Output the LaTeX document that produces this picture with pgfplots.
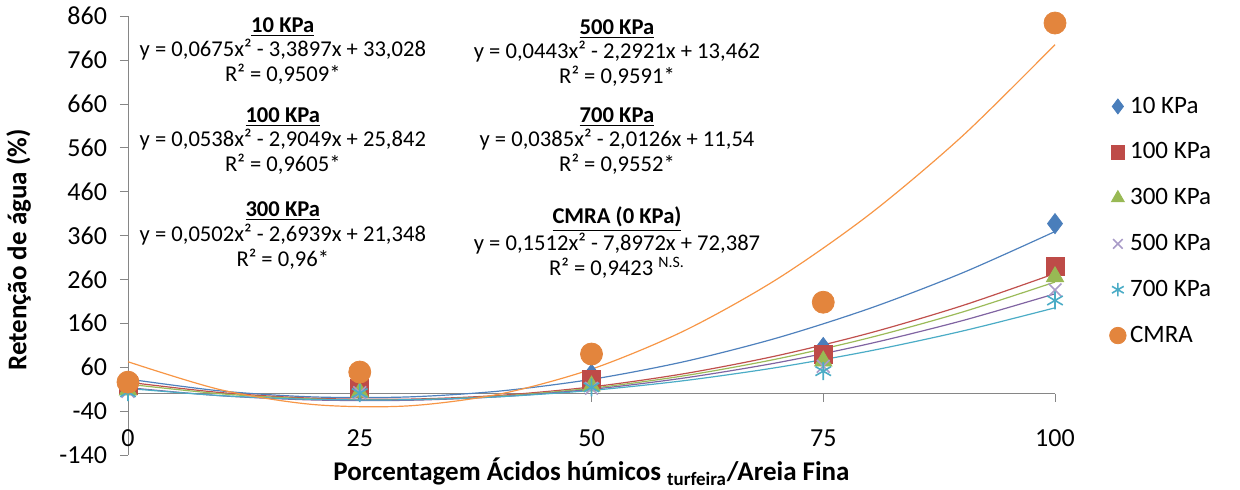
\documentclass[border=0pt]{standalone}
\usepackage{pgfplots}
\pgfplotsset{compat=1.18}
\usepackage{fontspec}
\setmainfont{Carlito}
\definecolor{mblue}{HTML}{4A7EBB}
\definecolor{mred}{HTML}{BE4B48}
\definecolor{mgreen}{HTML}{98B954}
\definecolor{mpurple}{HTML}{A99BC8}
\definecolor{mcyan}{HTML}{4BACC6}
\definecolor{morange}{HTML}{E3853D}
\definecolor{lblue}{HTML}{4F81BD}
\definecolor{lred}{HTML}{C0504D}
\definecolor{lgreen}{HTML}{9BBB59}
\definecolor{lpurple}{HTML}{8064A2}
\definecolor{lcyan}{HTML}{4BACC6}
\definecolor{lorange}{HTML}{F79646}
\definecolor{axgray}{HTML}{868686}
\begin{document}
\begin{tikzpicture}
\useasboundingbox (-64pt,-17.5pt) rectangle (556pt,227.5pt);
\begin{axis}[
  scale only axis,
  width=463.5pt, height=219.5pt,
  xmin=0, xmax=100, ymin=-140, ymax=860,
  axis x line=bottom, axis y line=left,
  x axis line style={draw=none},
  y axis line style={axgray,-},
  xtick={0,25,50,75,100},
  ytick={-140,-40,60,160,260,360,460,560,660,760,860},
  tick align=outside,
  major tick length=4pt,
  ytick style={axgray},
  xtick style={draw=none},
  /pgf/number format/assume math mode=true,
  ticklabel style={font=\fontsize{13}{15}\selectfont, text=black},
  xticklabel style={yshift=20pt},
  yticklabel style={xshift=-3pt},
  xlabel={\textbf{Porcentagem Ácidos húmicos \textsubscript{turfeira}/Areia Fina}},
  xlabel style={at={(rel axis cs:0.5,0)}, anchor=north, yshift=2pt, font=\fontsize{13.5}{15}\selectfont},
  ylabel={\textbf{Retenção de água (\%)}},
  ylabel style={at={(rel axis cs:0,0.467)}, anchor=south, yshift=45pt, font=\fontsize{13.5}{15}\selectfont},
  legend style={at={(rel axis cs:1.052,0.835)}, anchor=north west, draw=none, fill=none,
    font=\fontsize{12.5}{14}\selectfont, row sep=9.3pt},
  legend image post style={scale=0.75},
  legend cell align=left,
  clip=false,
]
% data points
\addplot[only marks, mark=diamond*, mark size=5pt, mblue, mark options={fill=mblue, draw=mblue}]
  coordinates {(0,25) (25,8) (50,44) (75,105) (100,387)};
\addlegendentry{10 KPa}
\addplot[only marks, mark=square*, mark size=4.5pt, mred, mark options={fill=mred, draw=mred}]
  coordinates {(0,18) (25,12) (50,33) (75,90) (100,289)};
\addlegendentry{100 KPa}
\addplot[only marks, mark=triangle*, mark size=5pt, mgreen, mark options={fill=mgreen, draw=mgreen}]
  coordinates {(0,8) (25,3) (50,17) (75,74) (100,266)};
\addlegendentry{300 KPa}
\addplot[only marks, mark=x, mark size=4.5pt, mpurple, mark options={line width=0.8pt}]
  coordinates {(0,5) (25,2) (50,12) (75,62) (100,236)};
\addlegendentry{500 KPa}
\addplot[only marks, mark=asterisk, mark size=4.5pt, mcyan, mark options={line width=0.8pt}]
  coordinates {(0,3) (25,1) (50,14) (75,51) (100,212)};
\addlegendentry{700 KPa}
\addplot[only marks, mark=*, mark size=5.5pt, morange, mark options={fill=morange, draw=morange}]
  coordinates {(0,26) (25,49) (50,90) (75,208) (100,844)};
\addlegendentry{CMRA}
% x axis line at y = 0 with its ticks
\draw[axgray] (axis cs:0,0) -- (axis cs:100,0);
\pgfplotsinvokeforeach{0,25,50,75,100}{\draw[axgray] (axis cs:#1,0) -- ++(0pt,-4pt);}
% trend lines
\addplot[forget plot, lblue, line width=0.6pt, smooth] coordinates {
(0,33.03) (10,5.88) (20,-7.76) (30,-7.91) (40,5.44) (50,32.29) (60,72.65) (70,126.50) (80,193.85) (90,274.71) (100,369.06)};
\addplot[forget plot, lred, line width=0.6pt, smooth] coordinates {
(0,25.84) (10,2.17) (20,-10.74) (30,-12.89) (40,-4.28) (50,15.09) (60,45.23) (70,86.12) (80,137.77) (90,200.18) (100,273.35)};
\addplot[forget plot, lgreen, line width=0.6pt, smooth] coordinates {
(0,21.35) (10,-0.57) (20,-12.45) (30,-14.29) (40,-6.09) (50,12.15) (60,40.44) (70,78.76) (80,127.12) (90,185.52) (100,253.96)};
\addplot[forget plot, lpurple, line width=0.6pt, smooth] coordinates {
(0,13.46) (10,-5.03) (20,-14.66) (30,-15.43) (40,-7.34) (50,9.60) (60,35.41) (70,70.08) (80,113.61) (90,166.00) (100,227.25)};
\addplot[forget plot, lcyan, line width=0.6pt, smooth] coordinates {
(0,11.54) (10,-4.74) (20,-13.31) (30,-14.19) (40,-7.36) (50,7.16) (60,29.38) (70,59.31) (80,96.93) (90,142.26) (100,195.28)};
\addplot[forget plot, lorange, line width=0.6pt, smooth] coordinates {
(0,72.39) (10,8.54) (20,-25.07) (30,-28.45) (40,-1.58) (50,55.53) (60,142.88) (70,260.47) (80,408.29) (90,586.36) (100,794.67)};
% equation annotations
\begin{scope}[every node/.style={align=center, anchor=north, inner sep=0pt, font=\fontsize{11.3}{12.3}\selectfont}]
\node at (axis cs:16.7,858) {\underline{\textbf{10 KPa}}\\y = 0,0675x² - 3,3897x + 33,028\\R² = 0,9509*};
\node at (axis cs:16.7,653) {\underline{\textbf{100 KPa}}\\y = 0,0538x² - 2,9049x + 25,842\\R² = 0,9605*};
\node at (axis cs:16.7,437) {\underline{\textbf{300 KPa}}\\y = 0,0502x² - 2,6939x + 21,348\\R² = 0,96*};
\node at (axis cs:52.75,853) {\underline{\textbf{500 KPa}}\\y = 0,0443x² - 2,2921x + 13,462\\R² = 0,9591*};
\node at (axis cs:52.75,653) {\underline{\textbf{700 KPa}}\\y = 0,0385x² - 2,0126x + 11,54\\R² = 0,9552*};
\node at (axis cs:52.75,426) {\underline{\textbf{CMRA (0 KPa)}}\\y = 0,1512x² - 7,8972x + 72,387\\R² = 0,9423 \textsuperscript{N.S.}};
\end{scope}
\end{axis}
\end{tikzpicture}
\end{document}
